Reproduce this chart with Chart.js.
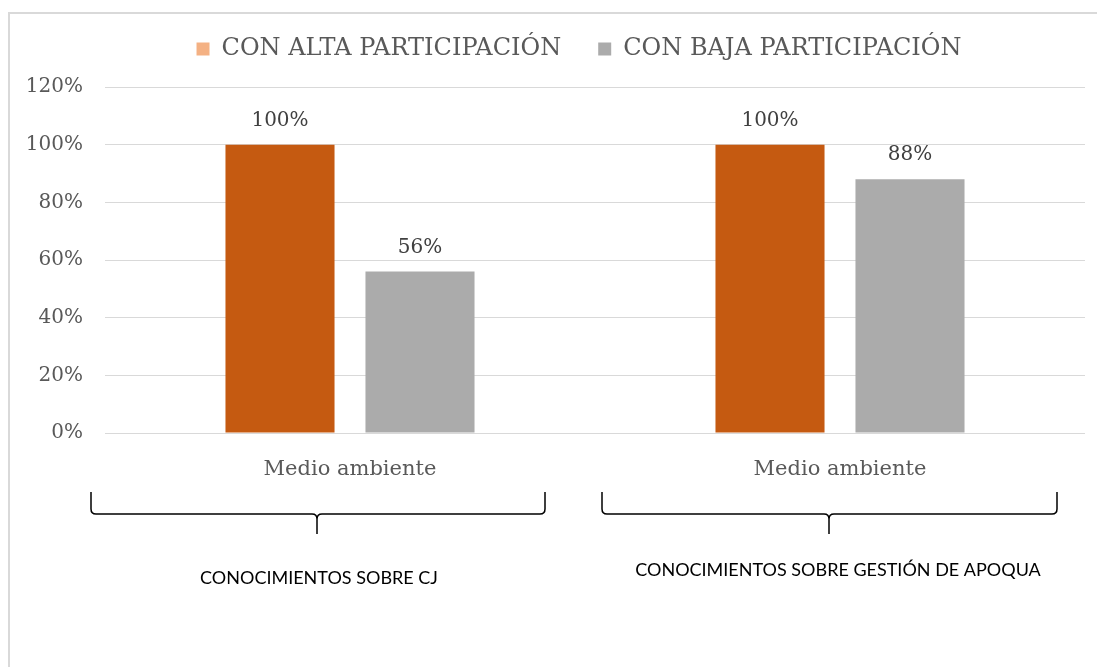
<!DOCTYPE html>
<html><head><meta charset="utf-8">
<script src="https://cdn.jsdelivr.net/npm/chart.js@4.4.0/dist/chart.umd.min.js"></script>
<style>
html,body{margin:0;padding:0;background:#fff;}
#wrap{position:relative;width:1097px;height:667px;overflow:hidden;background:#fff;}
#frame{position:absolute;left:8px;top:12px;width:1200px;height:800px;border-left:2px solid #d9d9d9;border-top:2px solid #d9d9d9;}
#c{position:absolute;left:0;top:0;}
</style></head>
<body><div id="wrap"><div id="frame"></div><canvas id="c" width="1097" height="667"></canvas></div>
<script>
const categories = ['Medio ambiente', 'Medio ambiente'];
const seriesNames = ['CON ALTA PARTICIPACIÓN', 'CON BAJA PARTICIPACIÓN'];
const altaValues = [100, 100];
const bajaValues = [56, 88];
const yTickValues = [0, 20, 40, 60, 80, 100, 120];
const groupLabels = ['CONOCIMIENTOS SOBRE CJ', 'CONOCIMIENTOS SOBRE GESTIÓN DE APOQUA'];

const SERIF = '"DejaVu Serif", serif';
// decorative brace layout (pixels) - style only
const braceStyle = [
  {x1: 91, x2: 545, cx: 317, top: 492, mid: 514, bottom: 534, labelX: 319, labelY: 578},
  {x1: 602, x2: 1057, cx: 829, top: 492, mid: 514, bottom: 534, labelX: 838, labelY: 570}
];

const legendShiftPlugin = {
  id: 'legendShift',
  afterLayout(chart) {
    const lg = chart.legend;
    if (!lg) return;
    const h = lg.bottom - lg.top;
    lg.left = 73; lg.right = 1085; lg.width = lg.right - lg.left;
    lg.top = 0; lg.bottom = h;
  }
};

const dataLabelPlugin = {
  id: 'dataLabels',
  afterDatasetsDraw(chart) {
    const ctx = chart.ctx;
    ctx.save();
    ctx.font = '20px ' + SERIF;
    ctx.fillStyle = '#404040';
    ctx.textAlign = 'center';
    ctx.textBaseline = 'middle';
    chart.data.datasets.forEach((ds, di) => {
      const meta = chart.getDatasetMeta(di);
      meta.data.forEach((el, i) => {
        ctx.fillText(ds.data[i] + '%', el.x, el.y - 24);
      });
    });
    ctx.restore();
  }
};

const bracePlugin = {
  id: 'braces',
  afterDraw(chart) {
    const ctx = chart.ctx;
    ctx.save();
    ctx.strokeStyle = '#000';
    ctx.lineWidth = 1.5;
    const r = 5;
    braceStyle.forEach((b, i) => {
      ctx.beginPath();
      ctx.moveTo(b.x1, b.top);
      ctx.lineTo(b.x1, b.mid - r);
      ctx.quadraticCurveTo(b.x1, b.mid, b.x1 + r, b.mid);
      ctx.lineTo(b.cx - r, b.mid);
      ctx.quadraticCurveTo(b.cx, b.mid, b.cx, b.mid + r);
      ctx.lineTo(b.cx, b.bottom);
      ctx.moveTo(b.x2, b.top);
      ctx.lineTo(b.x2, b.mid - r);
      ctx.quadraticCurveTo(b.x2, b.mid, b.x2 - r, b.mid);
      ctx.lineTo(b.cx + r, b.mid);
      ctx.quadraticCurveTo(b.cx, b.mid, b.cx, b.mid + r);
      ctx.stroke();
      ctx.font = '18px Lato, "Open Sans", sans-serif';
      ctx.fillStyle = '#000';
      ctx.textAlign = 'center';
      ctx.textBaseline = 'middle';
      ctx.fillText(groupLabels[i], b.labelX, b.labelY);
    });
    ctx.restore();
  }
};

new Chart(document.getElementById('c'), {
  type: 'bar',
  data: {
    labels: categories,
    datasets: [
      {label: seriesNames[0], data: altaValues, backgroundColor: '#C55A11', categoryPercentage: 0.5714, barPercentage: 0.779},
      {label: seriesNames[1], data: bajaValues, backgroundColor: '#ABABAB', categoryPercentage: 0.5714, barPercentage: 0.779}
    ]
  },
  options: {
    responsive: false,
    animation: false,
    devicePixelRatio: 1,
    layout: {padding: {left: 20, right: 12, top: 16, bottom: 0}},
    plugins: {
      tooltip: {enabled: false},
      legend: {
        position: 'top',
        labels: {
          boxWidth: 13, boxHeight: 13, padding: 37,
          color: '#595959',
          font: {family: SERIF, size: 24},
          generateLabels(chart) {
            const items = Chart.defaults.plugins.legend.labels.generateLabels(chart);
            items.forEach((it, i) => {
              const c = i === 0 ? '#F4B183' : '#ABABAB';
              it.fillStyle = c; it.strokeStyle = c; it.lineWidth = 0;
            });
            return items;
          }
        }
      }
    },
    scales: {
      x: {
        grid: {display: false, drawTicks: false},
        border: {display: false},
        ticks: {color: '#595959', font: {family: SERIF, size: 21}, padding: 24},
        afterFit(scale) { scale.height = 234; }
      },
      y: {
        min: 0, max: 120,
        afterBuildTicks(scale) { scale.ticks = yTickValues.map(v => ({value: v})); },
        grid: {color: '#d9d9d9', lineWidth: 1, drawTicks: false},
        border: {display: false},
        ticks: {color: '#595959', font: {family: SERIF, size: 20}, padding: 22, callback: v => v + '%'},
        afterFit(scale) { scale.width = 85; }
      }
    }
  },
  plugins: [legendShiftPlugin, dataLabelPlugin, bracePlugin]
});
</script>
</body></html>
